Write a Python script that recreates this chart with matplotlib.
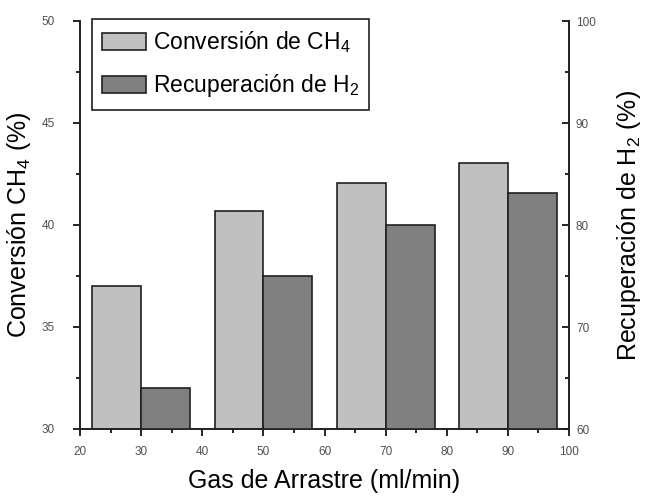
import numpy as np
import matplotlib
matplotlib.use('Agg')
import matplotlib.pyplot as plt
from matplotlib.ticker import MultipleLocator
from matplotlib.patches import Patch

plt.rcParams['font.family'] = ['Liberation Sans', 'DejaVu Sans']
plt.rcParams['mathtext.fontset'] = 'custom'
plt.rcParams['mathtext.rm'] = 'Liberation Sans'
plt.rcParams['mathtext.it'] = 'Liberation Sans'

# datos
gas_flujo = [30, 50, 70, 90]
conversion_ch4 = [37.0, 40.7, 42.05, 43.05]
recuperacion_h2 = [64.0, 75.0, 80.0, 83.1]

color_claro = '#c0c0c0'
color_oscuro = '#808080'
borde = '#202020'


def main():
    fig = plt.figure(figsize=(6.51, 5.0), dpi=100)
    ax = fig.add_axes([0.123, 0.142, 0.751, 0.816])
    ax2 = ax.twinx()

    ancho = 8
    x = np.array(gas_flujo)
    ax.bar(x - ancho / 2, conversion_ch4, width=ancho, color=color_claro,
           edgecolor=borde, linewidth=1.2, zorder=2)
    ax2.bar(x + ancho / 2, recuperacion_h2, width=ancho, color=color_oscuro,
            edgecolor=borde, linewidth=1.2, zorder=2)

    ax.set_xlim(20, 100)
    ax.set_ylim(30, 50)
    ax2.set_ylim(60, 100)

    ax.xaxis.set_major_locator(MultipleLocator(10))
    ax.xaxis.set_minor_locator(MultipleLocator(5))
    ax.yaxis.set_major_locator(MultipleLocator(5))
    ax.yaxis.set_minor_locator(MultipleLocator(2.5))
    ax2.yaxis.set_major_locator(MultipleLocator(10))
    ax2.yaxis.set_minor_locator(MultipleLocator(5))

    for a in (ax, ax2):
        a.spines['top'].set_visible(False)
        for s in a.spines.values():
            s.set_linewidth(1.2)
            s.set_color('#202020')

    # eje x y eje izquierdo: marcas hacia fuera
    ax.tick_params(axis='x', which='major', direction='out', length=5,
                   width=1.2, labelsize=8.5, labelcolor='#505050', pad=7)
    ax.tick_params(axis='x', which='minor', direction='out', length=3, width=1.2)
    ax.tick_params(axis='y', which='major', direction='out', length=5,
                   width=1.2, labelsize=8.5, labelcolor='#505050', pad=13)
    ax.tick_params(axis='y', which='minor', direction='out', length=3, width=1.2)
    # eje derecho: marcas hacia dentro
    ax2.tick_params(axis='y', which='major', direction='in', length=5,
                    width=1.2, labelsize=8.5, labelcolor='#505050', pad=5)
    ax2.tick_params(axis='y', which='minor', direction='in', length=3, width=1.2)

    ax.set_xlabel('Gas de Arrastre (ml/min)', fontsize=18, labelpad=8)
    ax.set_ylabel('Conversión CH$_4$ (%)', fontsize=18, labelpad=6)
    ax2.set_ylabel('Recuperación de H$_2$ (%)', fontsize=18, labelpad=14)

    handles = [Patch(facecolor=color_claro, edgecolor=borde, linewidth=1.2),
               Patch(facecolor=color_oscuro, edgecolor=borde, linewidth=1.2)]
    etiquetas = ['Conversión de CH$_4$', 'Recuperación de H$_2$']
    leg = ax2.legend(handles, etiquetas, loc='upper left',
                     bbox_to_anchor=(92 / 651, 1 - 19 / 500),
                     bbox_transform=fig.transFigure, borderaxespad=0,
                     fontsize=16.5, frameon=True, fancybox=False, framealpha=1,
                     edgecolor='#202020', handlelength=1.9, handleheight=0.8,
                     handletextpad=0.3, labelspacing=0.75, borderpad=0.45)
    leg.get_frame().set_linewidth(1.2)

    fig.savefig('out.png', dpi=100)


if __name__ == '__main__':
    main()
